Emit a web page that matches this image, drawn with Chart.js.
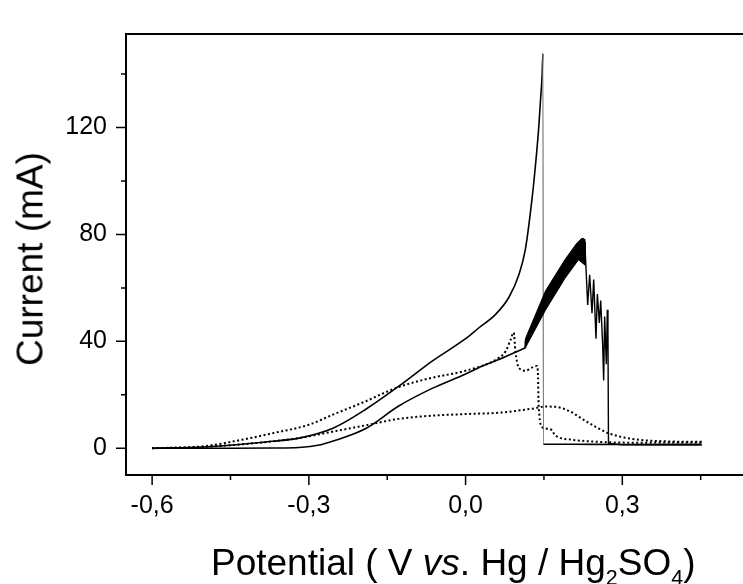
<!DOCTYPE html>
<html>
<head>
<meta charset="utf-8">
<script src="https://cdn.jsdelivr.net/npm/chart.js@4"></script>
<style>
    body { margin: 0; background: #fff; }
    #wrap { position: relative; width: 743px; height: 584px; font-family: 'Liberation Sans', Arial, sans-serif; }
    #chart { position: absolute; left: 0; top: 0; }
    .axis-title { position: absolute; font-size: 37px; color: #000; white-space: nowrap; line-height: 1; }
    #y-title { left: 30px; top: 259px; transform: translate(-50%, -50%) rotate(-90deg); }
    #x-title { left: 211px; top: 544px; }
    #x-title sub { font-size: 0.58em; vertical-align: -0.45em; line-height: 0; }
</style>
</head>
<body>
<div id="wrap">
    <canvas id="chart" width="743" height="584"></canvas>
    <div class="axis-title" id="y-title">Current (mA)</div>
    <div class="axis-title" id="x-title">Potential ( V <i>vs</i>. Hg / Hg<sub>2</sub>SO<sub>4</sub>)</div>
</div>
<script>
// Cyclic voltammetry - current vs potential

// Axis ticks
const xMajor = [-0.6, -0.3, 0.0, 0.3];
const xMinor = [-0.45, -0.15, 0.15, 0.45];
const yMajor = [0, 40, 80, 120];
const yMinor = [20, 60, 100, 140];

// Solid curve with the sharp 147 mA peak
const solidUpX = [-0.6, -0.5, -0.433, -0.37, -0.319, -0.255, -0.191, -0.121, -0.064, 0.0, 0.025, 0.057, 0.083, 0.102, 0.1145, 0.127, 0.1337, 0.14, 0.1432, 0.1464, 0.148, 0.149, 0.2, 0.3, 0.452];
const solidUpY = [0, 0.5, 1.4, 2.6, 3.8, 7.4, 14.6, 24.2, 32.6, 41, 45, 50, 56.5, 64.9, 74.5, 93, 105.7, 120, 129.6, 139.2, 147.8, 1.5, 1.5, 1.4, 1.5];

// Solid curve rising up to the band
const solidLowX = [-0.6, -0.45, -0.37, -0.319, -0.28, -0.255, -0.191, -0.128, -0.064, 0.0, 0.026, 0.0635, 0.1145];
const solidLowY = [0, 0, 0.1, 0.3, 1.2, 2.6, 7.4, 15.8, 22.4, 27.8, 30.2, 33.2, 37.6];

// Same scan: band centre, noisy decay and drop
const noiseX = [0.1145, 0.1146, 0.226, 0.228, 0.2305, 0.2337, 0.2375, 0.242, 0.2452, 0.2496, 0.2522, 0.256, 0.2586, 0.2624, 0.2643, 0.2662, 0.2694, 0.2713, 0.2725, 0.2735, 0.3, 0.452];
const noiseY = [37.6, 40, 78, 78.1, 67.3, 53.6, 64.9, 50.5, 63.1, 41.0, 57.7, 46.9, 55.3, 38.6, 25.4, 49.3, 31.4, 51.8, 44, 1.8, 1.3, 1.2];

// Outline of the dense oscillation band
const bandX = [0.1135, 0.1145, 0.153, 0.19, 0.212, 0.222, 0.226, 0.229, 0.229, 0.216, 0.19, 0.153, 0.1145];
const bandY = [37.6, 41, 58.9, 70.5, 76.5, 78.5, 78.5, 77, 68.5, 70.5, 63.5, 51.7, 37.6];

// Dotted curve with the spike near 0.09 V
const dotUpX = [-0.6, -0.5, -0.433, -0.37, -0.3, -0.255, -0.191, -0.15, -0.121, -0.064, 0.0, 0.0635, 0.0763, 0.0858, 0.0922, 0.0954, 0.1017, 0.1145, 0.127, 0.1367, 0.1387, 0.1395, 0.1413, 0.1432, 0.1528, 0.1655, 0.1687, 0.175, 0.2037, 0.2547, 0.3185, 0.452];
const dotUpY = [0, 0.8, 3.0, 5.6, 8.8, 12.5, 17.6, 21.2, 23.4, 26.4, 29.0, 33.8, 36.2, 40.4, 43.3, 36.2, 30.2, 29.0, 30.2, 30.8, 26.6, 18.2, 12.2, 9.2, 7.4, 6.8, 5.6, 4.4, 3.2, 2.4, 2.1, 2.2];

// Dotted curve with the broad hump
const dotLowX = [-0.6, -0.5, -0.433, -0.37, -0.319, -0.255, -0.191, -0.128, -0.064, 0.0, 0.0635, 0.127, 0.153, 0.172, 0.2, 0.223, 0.2547, 0.274, 0.3185, 0.382, 0.452];
const dotLowY = [0, 0.5, 1.4, 2.6, 3.8, 6.2, 8.6, 11.0, 12.2, 12.8, 13.3, 14.8, 15.6, 15.5, 13.8, 11.0, 7.4, 5.6, 3.5, 2.6, 2.4];

function zip(xs, ys) {
    return xs.map((x, i) => ({ x: x, y: ys[i] }));
}

const frameTicks = {
    id: 'frameTicks',
    afterDraw(chart) {
        const { ctx, chartArea: a, scales: { x, y } } = chart;
        ctx.save();
        ctx.strokeStyle = '#000';
        ctx.lineWidth = 1.5;
        ctx.beginPath();
        xMajor.forEach(v => { const p = x.getPixelForValue(v); ctx.moveTo(p, a.bottom); ctx.lineTo(p, a.bottom + 10); });
        xMinor.forEach(v => { const p = x.getPixelForValue(v); ctx.moveTo(p, a.bottom); ctx.lineTo(p, a.bottom + 5); });
        yMajor.forEach(v => { const p = y.getPixelForValue(v); ctx.moveTo(a.left, p); ctx.lineTo(a.left - 10, p); });
        yMinor.forEach(v => { const p = y.getPixelForValue(v); ctx.moveTo(a.left, p); ctx.lineTo(a.left - 5, p); });
        ctx.stroke();
        // top frame line
        ctx.lineWidth = 2;
        ctx.beginPath();
        ctx.moveTo(a.left, a.top);
        ctx.lineTo(a.right, a.top);
        ctx.stroke();
        ctx.restore();
    }
};

const tickFont = { family: "'Liberation Sans', Arial, sans-serif", size: 25 };

function curve(xs, ys, extra) {
    return Object.assign({
        data: zip(xs, ys),
        showLine: true,
        borderColor: '#000',
        borderWidth: 1.6,
        pointRadius: 0,
        cubicInterpolationMode: 'monotone',
    }, extra);
}

new Chart(document.getElementById('chart').getContext('2d'), {
    type: 'scatter',
    data: {
        datasets: [
            {
                data: zip(bandX, bandY),
                showLine: true,
                fill: 'shape',
                backgroundColor: '#000',
                borderColor: '#000',
                borderWidth: 1,
                pointRadius: 0,
            },
            curve(solidUpX, solidUpY, {
                segment: {
                    borderColor: c => (c.p0.parsed.y - c.p1.parsed.y > 100 ? '#777' : undefined),
                    borderWidth: c => (c.p0.parsed.y - c.p1.parsed.y > 100 ? 1.2 : undefined),
                },
            }),
            curve(solidLowX, solidLowY, { borderWidth: 1.6 }),
            curve(noiseX, noiseY, { borderWidth: 1.4, cubicInterpolationMode: 'default', tension: 0 }),
            curve(dotUpX, dotUpY, { borderWidth: 2, borderDash: [2, 2.5] }),
            curve(dotLowX, dotLowY, { borderWidth: 2, borderDash: [2, 2.5] }),
        ]
    },
    options: {
        responsive: false,
        animation: false,
        layout: { padding: { top: 16, right: 0, left: 0, bottom: 0 } },
        plugins: { legend: { display: false }, tooltip: { enabled: false } },
        scales: {
            x: {
                type: 'linear',
                min: -0.65,
                max: 0.531,
                afterBuildTicks: s => { s.ticks = xMajor.map(v => ({ value: v })); },
                afterFit: s => { s.height = 109; },
                grid: { display: false, drawTicks: false },
                border: { display: true, color: '#000', width: 2 },
                ticks: {
                    color: '#000',
                    font: tickFont,
                    padding: 16,
                    maxRotation: 0,
                    callback: v => v.toFixed(1).replace('.', ','),
                },
            },
            y: {
                type: 'linear',
                min: -10,
                max: 155,
                afterBuildTicks: s => { s.ticks = yMajor.map(v => ({ value: v })); },
                afterFit: s => { s.width = 126; },
                grid: { display: false, drawTicks: false },
                border: { display: true, color: '#000', width: 2 },
                ticks: {
                    color: '#000',
                    font: tickFont,
                    padding: 19,
                    callback: v => String(v),
                },
            },
        },
    },
    plugins: [frameTicks],
});
</script>
</body>
</html>
